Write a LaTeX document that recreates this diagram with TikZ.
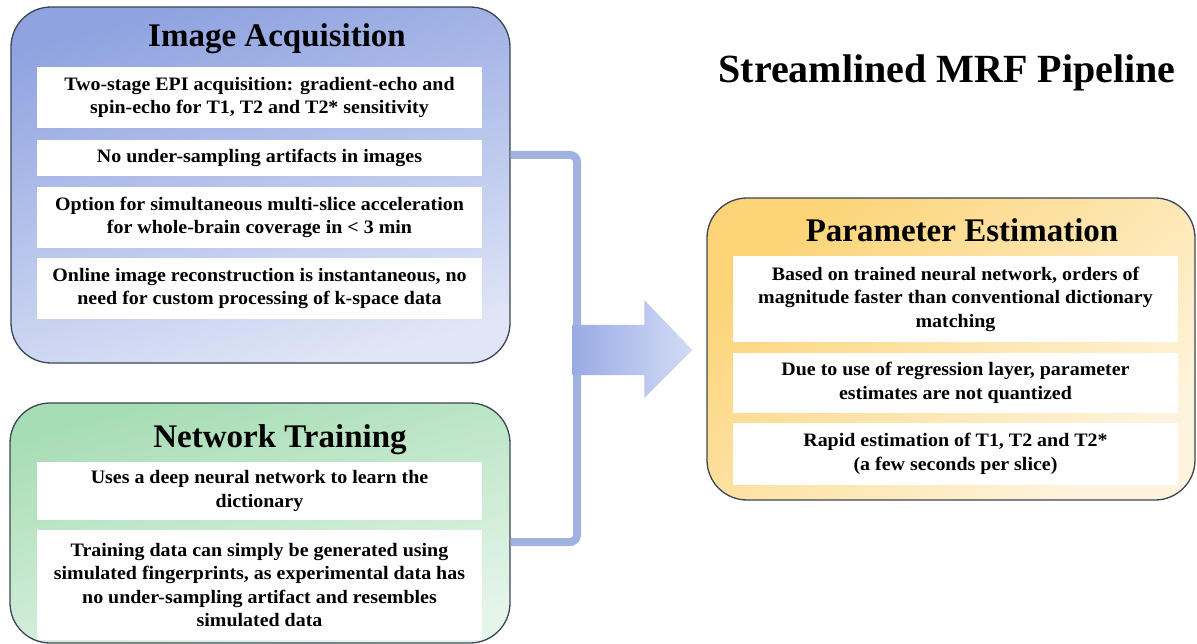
\documentclass[tikz,border=0pt]{standalone}
\usepackage{fontspec}
\setmainfont{Liberation Serif}
\newfontfamily\bodyfont[FakeStretch=1.05]{Liberation Serif}
\usetikzlibrary{calc}

\definecolor{edge}{HTML}{3A4656}
\definecolor{acqtop}{HTML}{8FA3E0}
\definecolor{acqbot}{HTML}{E0E6F7}
\definecolor{nettop}{HTML}{A6DDB4}
\definecolor{netbot}{HTML}{E6F5EA}
\definecolor{partop}{HTML}{FCD477}
\definecolor{parbot}{HTML}{FEF4DE}
\definecolor{link}{HTML}{9FB2E0}
\definecolor{arrowA}{HTML}{98ABE4}
\definecolor{arrowB}{HTML}{D3DBF4}

\tikzset{
  panel/.style={draw=edge, line width=1.3pt, rounded corners=40pt, inner sep=0pt},
  item/.style={fill=white, inner sep=0pt, align=center,
    font=\bodyfont\bfseries\fontsize{19}{23.5}\selectfont},
  heading/.style={font=\bfseries\fontsize{33}{36}\selectfont, anchor=base, inner sep=0pt},
  bracket/.style={draw=link, line width=8pt, rounded corners=7pt},
}

\begin{document}
\begin{tikzpicture}[x=1pt, y=-1pt]
\useasboundingbox (0,0) rectangle (1197,644);

% --- Image acquisition panel ---
\node[panel, top color=acqtop, bottom color=acqbot, shading angle=15,
      minimum width=499pt, minimum height=356pt] (acq) at (260.5,185) {};
\node[heading] (acqT) at (277,47) {Image Acquisition};
\node[item, minimum width=445pt, minimum height=61pt] (a1) at (259.5,97.5)
  {Two-stage EPI acquisition: gradient-echo and\\spin-echo for T1, T2 and T2* sensitivity};
\node[item, minimum width=445pt, minimum height=36pt] (a2) at (259.5,158)
  {No under-sampling artifacts in images};
\node[item, minimum width=445pt, minimum height=61pt] (a3) at (259.5,217.5)
  {Option for simultaneous multi-slice acceleration\\for whole-brain coverage in < 3 min};
\node[item, minimum width=445pt, minimum height=61pt] (a4) at (259.5,288.5)
  {Online image reconstruction is instantaneous, no\\need for custom processing of k-space data};

% --- Network training panel ---
\node[panel, top color=nettop, bottom color=netbot, shading angle=15,
      minimum width=500pt, minimum height=240pt] (net) at (260,523) {};
\node[heading] (netT) at (280,447) {Network Training};
\node[item, minimum width=445pt, minimum height=58pt] (n1) at (259.5,491)
  {Uses a deep neural network to learn the\\dictionary};
\node[item, minimum width=445pt, minimum height=110pt] (n2) at (259.5,585)
  {Training data can simply be generated using\\simulated fingerprints, as experimental data has\\no under-sampling artifact and resembles\\simulated data};

% --- Parameter estimation panel ---
\node[panel, top color=partop, bottom color=parbot, shading angle=40,
      minimum width=488pt, minimum height=302pt] (par) at (951,349) {};
\node[heading] (parT) at (962,242) {Parameter Estimation};
\node[item, minimum width=445pt, minimum height=86pt] (p1) at (955.5,299)
  {Based on trained neural network, orders of\\magnitude faster than conventional dictionary\\matching};
\node[item, minimum width=445pt, minimum height=60pt] (p2) at (955.5,383)
  {Due to use of regression layer, parameter\\estimates are not quantized};
\node[item, minimum width=445pt, minimum height=62pt] (p3) at (955.5,454)
  {Rapid estimation of T1, T2 and T2*\\(a few seconds per slice)};

% --- Title ---
\node[font=\bfseries\fontsize{40}{44}\selectfont, anchor=base, inner sep=0pt]
  (title) at (947,83) {Streamlined MRF Pipeline};

% --- Bracket joining the two left panels ---
\coordinate (hub) at (577,350);
\coordinate (acqOut) at ([yshift=30pt]acq.east);
\coordinate (netOut) at ([yshift=-19pt]net.east);
\draw[bracket] (acqOut) -- (hub |- acqOut) -- (hub |- netOut) -- (netOut);

% --- Block arrow into parameter estimation ---
\coordinate (tip) at ([xshift=-14pt]par.west |- hub);
\shade[left color=arrowA, right color=arrowB]
  ($(hub)+(-5,-25)$) -- ($(tip)+(-48,-25)$) -- ($(tip)+(-48,-50)$) -- (tip)
  -- ($(tip)+(-48,48)$) -- ($(tip)+(-48,25)$) -- ($(hub)+(-5,25)$) -- cycle;
\end{tikzpicture}
\end{document}
